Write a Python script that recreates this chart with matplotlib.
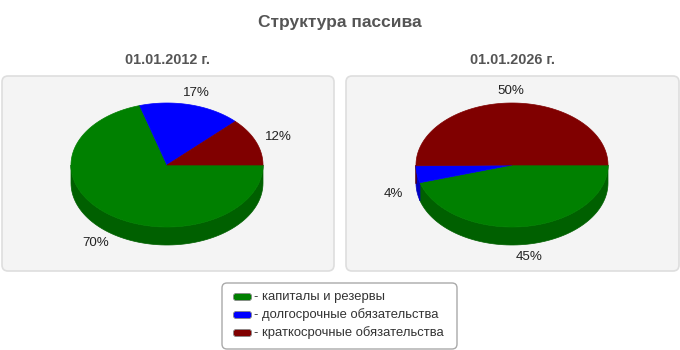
import numpy as np
import matplotlib
matplotlib.use("Agg")
import matplotlib.pyplot as plt
from matplotlib.patches import Polygon, FancyBboxPatch

title = "Структура пассива"
dates = ["01.01.2012 г.", "01.01.2026 г."]
categories = ["капиталы и резервы", "долгосрочные обязательства", "краткосрочные обязательства"]
values_2012 = [70.4, 17.2, 12.4]
values_2026 = [45.4, 4.4, 50.2]
labels_2012 = ["70%", "17%", "12%"]
labels_2026 = ["45%", "4%", "50%"]
colors = ["#008000", "#0000ff", "#800000"]
side_colors = ["#006000", "#0000c0", "#5a0000"]

plt.rcParams["font.family"] = ["Liberation Sans", "DejaVu Sans"]

W, H = 680, 350
fig = plt.figure(figsize=(W / 100, H / 100), dpi=100)
ax = fig.add_axes([0, 0, 1, 1])
ax.set_xlim(0, W)
ax.set_ylim(H, 0)
ax.axis("off")

ax.text(340, 22, title, ha="center", va="center", fontsize=12.5,
        fontweight="bold", color="#555555")

RX, RY, DEPTH = 96, 62, 18


def pt(cx, cy, th, dy=0.0):
    t = np.radians(th)
    return cx + RX * np.cos(t), cy - RY * np.sin(t) + dy


def draw_pie(cx, cy, vals, labs):
    total = float(sum(vals))
    start = 0.0
    spans = []
    for v in vals:
        end = start - 360.0 * v / total
        spans.append((end, start))
        start = end
    # sides (front half)
    for (a1, a0), sc in zip(spans, side_colors):
        for k in (-1, 0, 1):
            lo = max(a1, k * 360 - 180)
            hi = min(a0, k * 360)
            if hi > lo:
                th = np.linspace(lo, hi, 80)
                top = [pt(cx, cy, t) for t in th]
                bot = [pt(cx, cy, t, DEPTH) for t in th[::-1]]
                ax.add_patch(Polygon(top + bot, closed=True, facecolor=sc,
                                     edgecolor=sc, linewidth=0.5))
    # top faces
    for (a1, a0), c in zip(spans, colors):
        th = np.linspace(a1, a0, max(int(abs(a0 - a1)), 2) + 1)
        poly = [(cx, cy)] + [pt(cx, cy, t) for t in th]
        ax.add_patch(Polygon(poly, closed=True, facecolor=c, edgecolor=c,
                             linewidth=0.5))
    # labels
    for (a1, a0), lab in zip(spans, labs):
        mid = np.radians((a0 + a1) / 2)
        x = cx + 1.25 * RX * np.cos(mid)
        y = cy - 1.2 * RY * np.sin(mid)
        if np.sin(mid) < 0:
            y += DEPTH
        ax.text(x, y, lab, ha="center", va="center", fontsize=9.6,
                color="#222222")


panels = [(2, 334, 167), (346, 679, 512)]
for (x0, x1, cx), d, vals, labs in zip(panels, dates,
                                      [values_2012, values_2026],
                                      [labels_2012, labels_2026]):
    ax.add_patch(FancyBboxPatch((x0 + 4, 80), x1 - x0 - 8, 187,
                                boxstyle="round,pad=4,rounding_size=6",
                                facecolor="#f4f4f4", edgecolor="#dedede",
                                linewidth=1.2))
    ax.text(cx, 60, d, ha="center", va="center", fontsize=10.4,
            fontweight="bold", color="#555555")
    draw_pie(cx, 165, vals, labs)

# legend
ax.add_patch(FancyBboxPatch((226, 287), 227, 58,
                            boxstyle="round,pad=4,rounding_size=5",
                            facecolor="white", edgecolor="#aaaaaa",
                            linewidth=1.0))
for i, (cat, c) in enumerate(zip(categories, colors)):
    y = 297 + i * 18
    ax.add_patch(FancyBboxPatch((234, y - 3), 17, 6,
                                boxstyle="round,pad=0.5,rounding_size=2.5",
                                facecolor=c, edgecolor="#888888", linewidth=0.6))
    ax.text(254, y, "- " + cat, ha="left", va="center", fontsize=9.4,
            color="#333333")

fig.savefig("out.png", dpi=100)
